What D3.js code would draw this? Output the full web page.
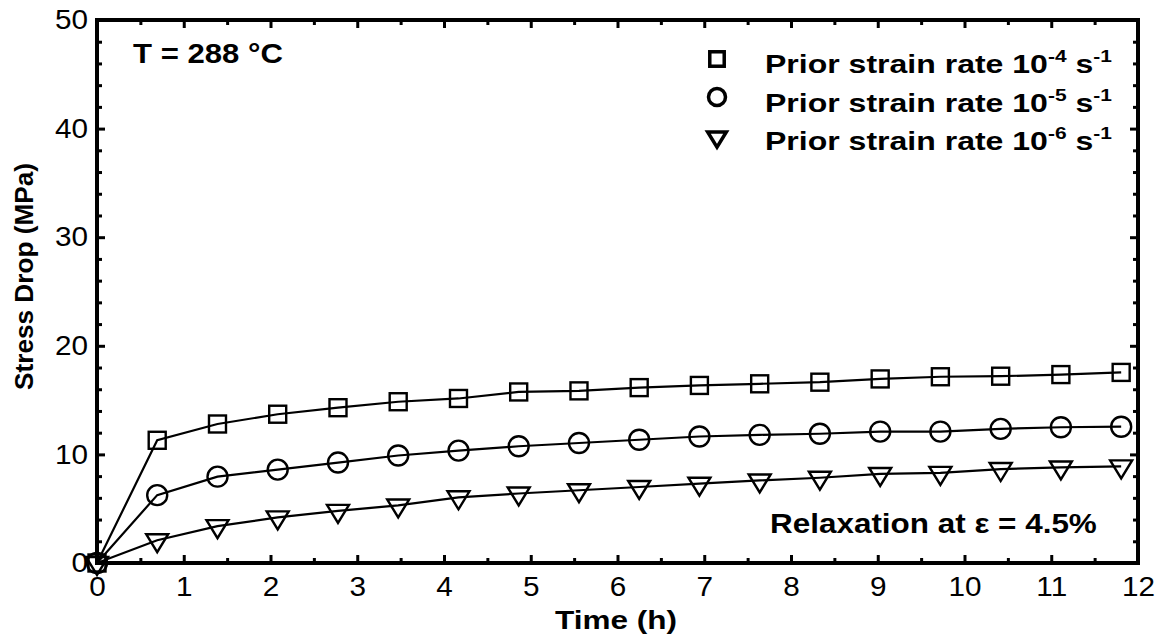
<!DOCTYPE html>
<html>
<head>
<meta charset="utf-8">
<script src="https://cdn.jsdelivr.net/npm/d3@7"></script>
<style>
  html, body { margin: 0; padding: 0; background: #fff; }
  svg { display: block; }
  text { font-family: "Liberation Sans", Arial, sans-serif; fill: #000; }
</style>
</head>
<body>
<svg id="chart" width="1162" height="639"></svg>
<script>
// ---- data ----
const timeH = [0, 0.694, 1.389, 2.083, 2.778, 3.472, 4.167, 4.861, 5.556, 6.25, 6.944, 7.639, 8.333, 9.028, 9.722, 10.417, 11.111, 11.806];
const rate4 = [0, 11.3, 12.8, 13.7, 14.3, 14.85, 15.15, 15.75, 15.85, 16.15, 16.35, 16.5, 16.65, 16.95, 17.15, 17.2, 17.35, 17.55];
const rate5 = [0, 6.25, 7.95, 8.6, 9.25, 9.9, 10.35, 10.75, 11.05, 11.35, 11.65, 11.8, 11.9, 12.1, 12.1, 12.35, 12.5, 12.55];
const rate6 = [0, 2.1, 3.4, 4.2, 4.8, 5.3, 6.05, 6.4, 6.7, 7.0, 7.3, 7.6, 7.85, 8.2, 8.3, 8.65, 8.8, 8.9];
const seriesNames = ["Prior strain rate 10", "Prior strain rate 10", "Prior strain rate 10"];
const seriesExp = ["-4", "-5", "-6"];
const seriesMarkers = ["square", "circle", "triangle"];
const xTicks = [0,1,2,3,4,5,6,7,8,9,10,11,12];
const yTicks = [0,10,20,30,40,50];
const xMinor = [0.5,1.5,2.5,3.5,4.5,5.5,6.5,7.5,8.5,9.5,10.5,11.5];
const yMinor = [2,4,6,8,12,14,16,18,22,24,26,28,32,34,36,38,42,44,46,48];

// ---- layout ----
const L = 97, R = 1138, T = 20, B = 563;
const svg = d3.select("#chart");
const x = d3.scaleLinear().domain([0, 12]).range([L, R]);
const y = d3.scaleLinear().domain([0, 50]).range([B, T]);
const FONT = '"Liberation Sans", Arial, sans-serif';
const SX = 1.1; // horizontal stretch of the reference lettering

function styleAxis(g) {
  g.select(".domain").remove();
  g.selectAll(".tick line").attr("stroke", "#000").attr("stroke-width", 3);
}

// major axes
svg.append("g").attr("transform", `translate(0,${B})`)
  .call(d3.axisBottom(x).tickValues(xTicks).tickSize(-8).tickPadding(14).tickFormat(d3.format("d")))
  .call(styleAxis)
  .selectAll("text").attr("font-size", 27).attr("font-family", FONT)
  .attr("transform", `scale(${SX},1)`);
svg.append("g").attr("transform", `translate(${L},0)`)
  .call(d3.axisLeft(y).tickValues(yTicks).tickSize(-8).tickPadding(9).tickFormat(d3.format("d")))
  .call(styleAxis)
  .selectAll("text").attr("font-size", 27).attr("font-family", FONT)
  .attr("x", 0).attr("transform", `translate(-9,0) scale(${SX},1)`);
svg.append("g").attr("transform", `translate(0,${T})`)
  .call(d3.axisTop(x).tickValues(xTicks).tickSize(-8).tickFormat(""))
  .call(styleAxis);
svg.append("g").attr("transform", `translate(${R},0)`)
  .call(d3.axisRight(y).tickValues(yTicks).tickSize(-8).tickFormat(""))
  .call(styleAxis);

// minor ticks
svg.append("g").attr("transform", `translate(0,${B})`)
  .call(d3.axisBottom(x).tickValues(xMinor).tickSize(-5).tickFormat("")).call(styleAxis);
svg.append("g").attr("transform", `translate(0,${T})`)
  .call(d3.axisTop(x).tickValues(xMinor).tickSize(-5).tickFormat("")).call(styleAxis);
svg.append("g").attr("transform", `translate(${L},0)`)
  .call(d3.axisLeft(y).tickValues(yMinor).tickSize(-5).tickFormat("")).call(styleAxis);
svg.append("g").attr("transform", `translate(${R},0)`)
  .call(d3.axisRight(y).tickValues(yMinor).tickSize(-5).tickFormat("")).call(styleAxis);

// frame
svg.append("rect").attr("x", L).attr("y", T).attr("width", R - L).attr("height", B - T)
  .attr("fill", "none").attr("stroke", "#000").attr("stroke-width", 4);

// ---- series ----
const series = [rate4, rate5, rate6];
const line = d3.line().x((d, i) => x(timeH[i])).y(d => y(d));

function drawMarker(g, type, cx, cy, sw, scale) {
  const s = scale || 1;
  if (type === "square") {
    const h = 8.5 * s;
    g.append("rect").attr("x", cx - h).attr("y", cy - h).attr("width", 2 * h).attr("height", 2 * h)
      .attr("fill", "none").attr("stroke", "#000").attr("stroke-width", sw);
  } else if (type === "circle") {
    g.append("circle").attr("cx", cx).attr("cy", cy).attr("r", 10 * s)
      .attr("fill", "none").attr("stroke", "#000").attr("stroke-width", sw);
  } else {
    const w = 11 * s, hTop = 6 * s, hBot = 12 * s;
    g.append("path")
      .attr("d", `M${cx - w},${cy - hTop}L${cx + w},${cy - hTop}L${cx},${cy + hBot}Z`)
      .attr("fill", "none").attr("stroke", "#000").attr("stroke-width", sw).attr("stroke-linejoin", "miter");
  }
}

series.forEach((vals, si) => {
  svg.append("path").datum(vals).attr("d", line)
    .attr("fill", "none").attr("stroke", "#000").attr("stroke-width", 2.2);
  const g = svg.append("g");
  vals.forEach((v, i) => drawMarker(g, seriesMarkers[si], x(timeH[i]), y(v), 2.4, 1));
});

// fit a text horizontally to a target width (left-anchored or centred)
function fit(textSel, px, py, targetW, anchor) {
  const w = textSel.node().getBBox().width;
  const k = targetW / w;
  const x0 = anchor === "middle" ? px - targetW / 2 : px;
  textSel.attr("x", 0).attr("y", 0).attr("text-anchor", "start")
    .attr("transform", `translate(${x0},${py}) scale(${k},1)`);
}

// ---- annotations ----
fit(svg.append("text").attr("font-size", 27).attr("font-weight", "bold").text("T = 288 °C"),
    133, 63, 150);
fit(svg.append("text").attr("font-size", 27).attr("font-weight", "bold").text("Relaxation at ε = 4.5%"),
    770, 533, 327);

// legend
const legY = [73, 112, 150];
const legMarkY = [59, 97, 137];
seriesNames.forEach((name, i) => {
  const lg = svg.append("g");
  drawMarker(lg, seriesMarkers[i], 717, legMarkY[i], 3.5, 0.85);
  const t = lg.append("text").attr("font-size", 26).attr("font-weight", "bold");
  t.append("tspan").text(name);
  t.append("tspan").attr("font-size", 17).attr("dy", -11).text(seriesExp[i]);
  t.append("tspan").attr("dy", 11).text(" s");
  t.append("tspan").attr("font-size", 17).attr("dy", -11).text("-1");
  fit(t, 765, legY[i], 347);
});

// axis titles
fit(svg.append("text").attr("font-size", 26).attr("font-weight", "bold").text("Time (h)"),
    616, 629, 122, "middle");
svg.append("text").attr("transform", `translate(33,276.5) rotate(-90)`).attr("text-anchor", "middle")
  .attr("font-size", 26.5).attr("font-weight", "bold").attr("textLength", 227).attr("lengthAdjust", "spacingAndGlyphs")
  .text("Stress Drop (MPa)");
</script>
</body>
</html>
